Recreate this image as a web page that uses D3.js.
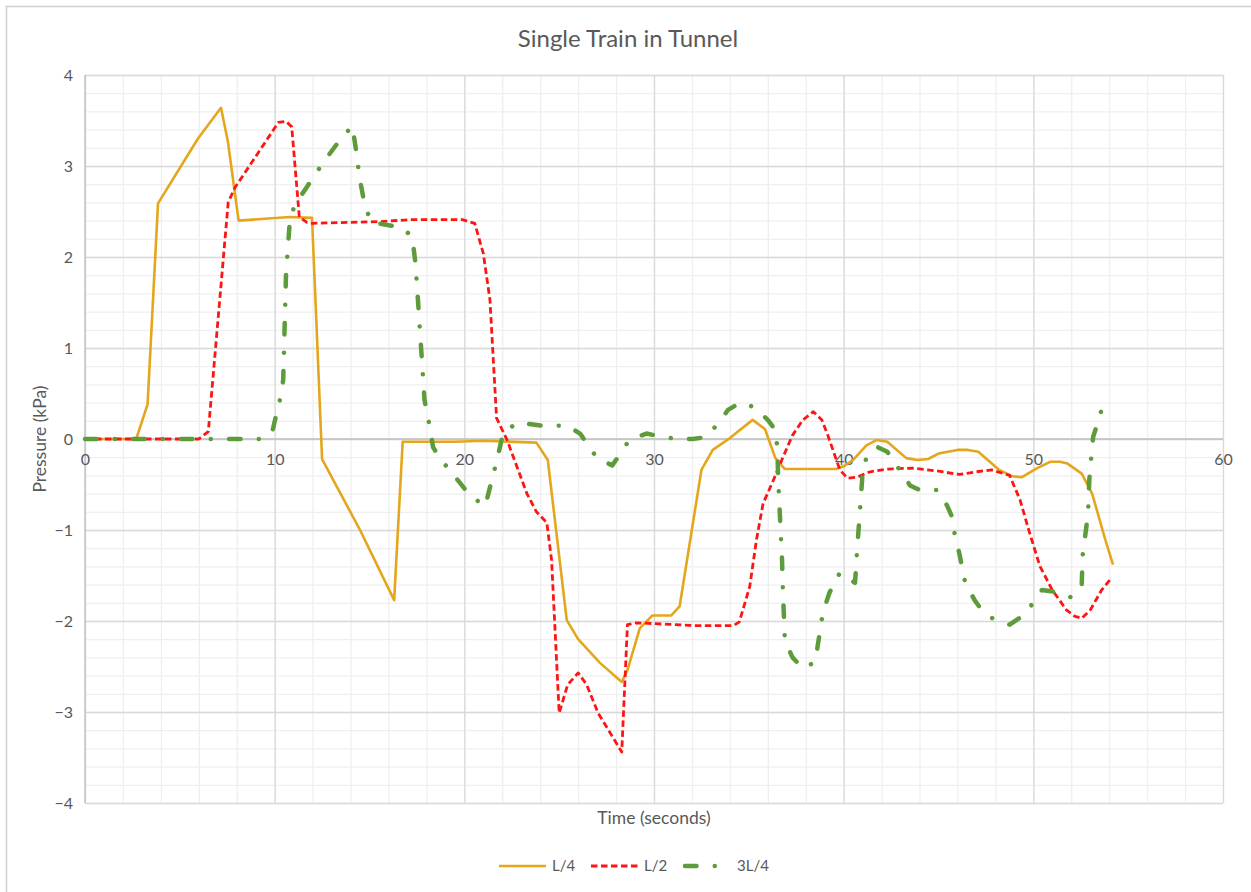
<!DOCTYPE html>
<html>
<head>
<meta charset="utf-8">
<script src="https://cdn.jsdelivr.net/npm/d3@7"></script>
<style>
body{margin:0;background:#fff;font-family:Lato,"Open Sans",sans-serif;}
text{fill:#595959;}
</style>
</head>
<body>
<script>
//data (time in s, pressure in kPa)
const seriesNames=["L/4","L/2","3L/4"]
const xTicks=[0,10,20,30,40,50,60]
const yTicks=[-4,-3,-2,-1,0,1,2,3,4]

const tQuarter=[0,2.7,3.3,3.85,5.95,7.17,7.54,8.1,10.8,11.97,12.5,14.5,16.3,16.75,19.5,21,23.8,24.4,25.4,26.0,27.15,28.3,28.6,29.25,29.9,30.9,31.35,32.5,33.1,34.0,35.2,35.85,36.4,36.9,37.85,39.6,40.0,40.5,41.2,41.75,42.3,43.3,43.9,44.45,45.0,46.0,46.55,47.1,48.2,48.9,49.4,50.2,50.9,51.4,51.8,52.55,53.1,53.8,54.2]
const pQuarter=[0,0,0.38,2.59,3.3,3.64,3.26,2.4,2.44,2.43,-0.22,-1.0,-1.77,-0.03,-0.03,-0.02,-0.04,-0.23,-1.99,-2.2,-2.46,-2.67,-2.54,-2.08,-1.94,-1.94,-1.84,-0.34,-0.12,0.01,0.21,0.11,-0.21,-0.33,-0.33,-0.33,-0.3,-0.23,-0.07,-0.01,-0.03,-0.21,-0.23,-0.22,-0.16,-0.12,-0.12,-0.14,-0.34,-0.41,-0.42,-0.32,-0.25,-0.25,-0.27,-0.38,-0.6,-1.11,-1.38]

const tHalf=[0,6.0,6.5,7.55,7.9,10.2,10.6,10.9,11.3,11.7,12.0,15.7,17.1,19.9,20.55,21.0,21.35,21.7,22.25,23.3,23.8,24.35,24.6,25.0,25.45,26.0,26.45,27.05,28.3,28.6,29.1,32.1,34.2,34.5,35.05,35.4,35.75,36.3,36.8,37.3,37.85,38.4,38.85,39.2,39.8,40.2,40.7,41.4,42.3,43.6,44.9,46.1,47.0,47.8,48.75,49.3,49.8,50.35,51.0,51.75,52.2,52.55,53.0,53.6,54.15]
const pHalf=[0,0,0.08,2.6,2.76,3.48,3.49,3.43,2.44,2.38,2.37,2.39,2.41,2.41,2.37,2.04,1.53,0.23,-0.01,-0.6,-0.8,-0.92,-1.33,-3.01,-2.7,-2.57,-2.7,-3.01,-3.44,-2.04,-2.02,-2.05,-2.05,-2.01,-1.62,-1.11,-0.71,-0.45,-0.2,0.04,0.21,0.3,0.21,0.02,-0.34,-0.43,-0.42,-0.36,-0.33,-0.32,-0.35,-0.39,-0.36,-0.34,-0.4,-0.67,-1.03,-1.4,-1.66,-1.88,-1.95,-1.97,-1.88,-1.66,-1.52]

const tThreeQ=[0,9.4,9.9,10.1,10.3,10.45,10.6,10.8,11.05,11.7,12.5,13.45,14.1,14.35,14.45,14.75,15.1,16.6,17.25,17.4,17.5,17.9,18.0,18.2,18.35,18.7,19.3,20.3,21.1,21.45,21.7,22.05,22.8,24.35,25.4,26.1,27.0,27.8,28.2,28.7,29.6,30.3,31.2,32.05,32.7,33.4,33.9,34.55,35.3,36.0,36.4,36.5,36.55,36.65,36.75,36.8,36.9,37.3,37.85,38.5,38.9,39.25,39.8,40.6,40.7,40.85,41.0,41.2,41.8,42.3,43.5,44.0,44.9,45.45,45.7,45.85,46.1,46.4,46.9,47.35,47.85,48.75,49.4,50.0,50.45,51.15,52.0,52.55,52.6,52.8,52.9,52.95,53.05,53.15,53.35,53.6]
const pThreeQ=[0,0,0.1,0.28,0.45,0.65,1.82,2.4,2.57,2.77,3.02,3.29,3.44,3.09,2.9,2.57,2.38,2.33,2.23,1.97,1.7,0.43,0.32,0.11,-0.09,-0.21,-0.36,-0.62,-0.74,-0.45,-0.25,0.07,0.18,0.14,0.15,0.06,-0.21,-0.29,-0.17,-0.01,0.06,0.03,0,0,0.02,0.17,0.32,0.4,0.35,0.21,0.1,-0.1,-0.45,-0.89,-1.33,-1.69,-2.21,-2.4,-2.52,-2.45,-1.91,-1.69,-1.47,-1.58,-1.25,-0.81,-0.37,-0.2,-0.09,-0.14,-0.51,-0.56,-0.56,-0.73,-0.85,-1.04,-1.26,-1.57,-1.77,-1.9,-1.97,-2.04,-1.95,-1.8,-1.66,-1.68,-1.74,-1.61,-1.28,-0.96,-0.74,-0.45,-0.21,0.02,0.15,0.32]

//constants
const W=1251, H=892
const plotL=85, plotR=1223, plotT=75, plotB=803

const series=[
  {name:seriesNames[0],t:tQuarter,p:pQuarter,color:"#E4A61C",width:2.6,dash:null,cap:"butt"},
  {name:seriesNames[1],t:tHalf,p:pHalf,color:"#FF1414",width:2.8,dash:"6.5,3.5",cap:"butt"},
  {name:seriesNames[2],t:tThreeQ,p:pThreeQ,color:"#5E9B3A",width:4.5,dash:"11.5,18.25,0.01,18.25",cap:"round"}
]

//scales
const x=d3.scaleLinear().domain([0,60]).range([plotL,plotR])
const y=d3.scaleLinear().domain([-4,4]).range([plotB,plotT])

const svg=d3.select("body").append("svg")
  .attr("width",W).attr("height",H)

//chart border
svg.append("rect")
  .attr("x",6.5).attr("y",6.5)
  .attr("width",W+20).attr("height",H+20)
  .attr("fill","#fff").attr("stroke","#D0D0D0").attr("stroke-width",1.5)

//minor grid
svg.append("g")
  .attr("transform","translate(0,"+plotB+")")
  .call(d3.axisBottom(x).tickValues(d3.range(0,61,2)).tickSize(-(plotB-plotT)).tickFormat(""))
  .call(g=>g.select(".domain").remove())
  .selectAll("line").attr("stroke","#EFEFEF").attr("stroke-width",1.3)
svg.append("g")
  .attr("transform","translate("+plotL+",0)")
  .call(d3.axisLeft(y).tickValues(d3.range(-20,21).map(d=>d/5)).tickSize(-(plotR-plotL)).tickFormat(""))
  .call(g=>g.select(".domain").remove())
  .selectAll("line").attr("stroke","#EFEFEF").attr("stroke-width",1.3)

//major grid
svg.append("g")
  .attr("transform","translate(0,"+plotB+")")
  .call(d3.axisBottom(x).tickValues(xTicks).tickSize(-(plotB-plotT)).tickFormat(""))
  .call(g=>g.select(".domain").remove())
  .selectAll("line").attr("stroke","#D9D9D9").attr("stroke-width",1.3)
svg.append("g")
  .attr("transform","translate("+plotL+",0)")
  .call(d3.axisLeft(y).tickValues(yTicks).tickSize(-(plotR-plotL)).tickFormat(""))
  .call(g=>g.select(".domain").remove())
  .selectAll("line").attr("stroke","#D9D9D9").attr("stroke-width",1.3)

//axis lines
svg.append("line")
  .attr("x1",plotL).attr("x2",plotR).attr("y1",y(0)).attr("y2",y(0))
  .attr("stroke","#BFBFBF").attr("stroke-width",1.3)
svg.append("line")
  .attr("x1",plotL).attr("x2",plotL).attr("y1",plotT).attr("y2",plotB)
  .attr("stroke","#BFBFBF").attr("stroke-width",1.3)

//tick labels
const yAx=svg.append("g")
  .attr("transform","translate("+plotL+",0)")
  .call(d3.axisLeft(y).tickValues(yTicks).tickSize(0).tickPadding(12).tickFormat(d3.format("d")))
yAx.select(".domain").remove()
yAx.selectAll("text").style("font-size","16px").style("font-family","Lato").attr("fill","#595959")

const xAx=svg.append("g")
  .attr("transform","translate(0,"+y(0)+")")
  .call(d3.axisBottom(x).tickValues(xTicks).tickSize(0).tickPadding(15))
xAx.select(".domain").remove()
xAx.selectAll("text").style("font-size","16px").style("font-family","Lato").attr("fill","#595959")

//lines
const line=d3.line().x(d=>x(d[0])).y(d=>y(d[1]))
series.forEach(s=>{
  svg.append("path")
    .datum(s.t.map((t,i)=>[t,s.p[i]]))
    .attr("d",line)
    .attr("fill","none")
    .attr("stroke",s.color)
    .attr("stroke-width",s.width)
    .attr("stroke-dasharray",s.dash)
    .attr("stroke-linecap",s.cap)
    .attr("stroke-linejoin","round")
})

//titles
svg.append("text")
  .attr("x",628).attr("y",47)
  .attr("text-anchor","middle")
  .style("font-size","24px")
  .text("Single Train in Tunnel")
svg.append("text")
  .attr("x",(plotL+plotR)/2).attr("y",824)
  .attr("text-anchor","middle")
  .style("font-size","17.5px")
  .text("Time (seconds)")
svg.append("text")
  .attr("transform","translate(46,"+y(0)+") rotate(-90)")
  .attr("text-anchor","middle")
  .style("font-size","17.5px")
  .text("Pressure (kPa)")

// legend
const legX=[499,591,683]
const legLen=[47,48,32]
const legTextX=[552,644,737]
const legend=svg.selectAll(".leg").data(series).enter().append("g").attr("class","leg")
legend.append("line")
  .attr("x1",(d,i)=>legX[i]+(d.cap=="round"?2:0))
  .attr("x2",(d,i)=>legX[i]+legLen[i])
  .attr("y1",866).attr("y2",866)
  .attr("stroke",d=>d.color)
  .attr("stroke-width",d=>d.width)
  .attr("stroke-dasharray",d=>d.dash)
  .attr("stroke-linecap",d=>d.cap)
legend.append("text")
  .attr("x",(d,i)=>legTextX[i]).attr("y",871)
  .style("font-size","15px")
  .text(d=>d.name)
</script>
</body>
</html>
